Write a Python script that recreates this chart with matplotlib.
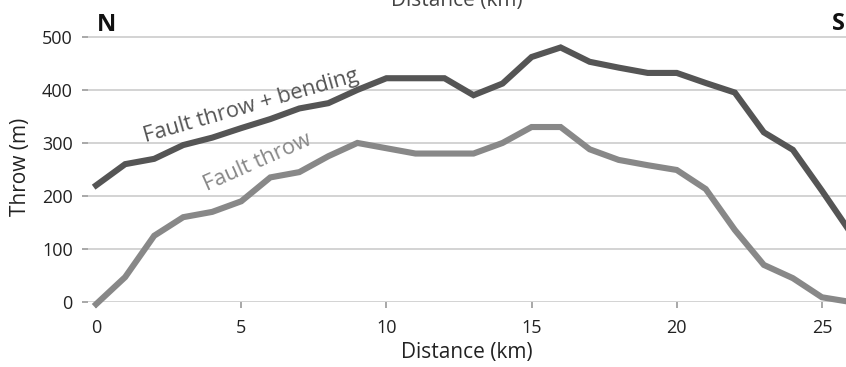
import numpy as np
import matplotlib
matplotlib.use("Agg")
import matplotlib.pyplot as plt

plt.rcParams['font.family'] = ['Open Sans', 'DejaVu Sans']

# distance along the fault (km)
distance_km = [0, 1, 2, 3, 4, 5, 6, 7, 8, 9, 10, 11, 12, 13, 14, 15, 16, 17, 18,
               19, 20, 21, 22, 23, 24, 25, 26]
# throw incl. bending (m)
throw_bending = [220, 260, 270, 296, 310, 328, 345, 365, 375, 400, 422, 422, 422, 390,
                 412, 462, 480, 453, 442, 432, 432, 413, 395, 320, 287, 210, 130]
# fault throw only (m)
throw_fault = [-4, 47, 125, 160, 170, 190, 235, 245, 275, 300, 290, 280, 280, 280,
               300, 330, 330, 288, 268, 258, 249, 213, 136, 70, 45, 9, 0]

x_ticks = [0, 5, 10, 15, 20, 25]
y_ticks = [0, 100, 200, 300, 400, 500]

fig = plt.figure(figsize=(8.46, 3.67), dpi=100)
ax = fig.add_axes([0.104, 0.177, 0.896, 0.737])

dark = '#555555'
light = '#888888'

ax.plot(distance_km, throw_bending, color=dark, lw=4.4, solid_joinstyle='miter',
        clip_on=False, zorder=3)
ax.plot(distance_km, throw_fault, color=light, lw=4.4, solid_joinstyle='miter',
        clip_on=False, zorder=3)

ax.set_xlim(-0.28, 25.83)
ax.set_ylim(0, 510)
ax.set_xticks(x_ticks)
ax.set_yticks(y_ticks)

for s in ax.spines.values():
    s.set_visible(False)
ax.grid(axis='y', color='#cccccc', lw=1.2)
ax.set_axisbelow(True)
ax.tick_params(axis='both', colors='#999999', labelcolor='#222222', labelsize=13,
               length=4, width=1.2, direction='out')
ax.tick_params(axis='x', pad=8)
ax.tick_params(axis='y', pad=7)

ax.set_xlabel('Distance (km)', fontsize=15, color='#222222', labelpad=4)
ax.set_ylabel('Throw (m)', fontsize=15, color='#222222', labelpad=8)

# inline line labels
ax.text(5.4, 360, 'Fault throw + bending', fontsize=15.7, color=dark, rotation=16,
        ha='center', va='baseline', rotation_mode='anchor')
ax.text(5.65, 254, 'Fault throw', fontsize=15.7, color=light, rotation=24,
        ha='center', va='baseline', rotation_mode='anchor')

# N / S ends and cropped top axis title
fig.text(97 / 846, 1 - 31 / 367, 'N', fontsize=17, fontweight='bold', color='#111111',
         ha='left', va='baseline')
fig.text(832 / 846, 1 - 30 / 367, 'S', fontsize=17, fontweight='bold', color='#111111',
         ha='left', va='baseline')
fig.text(457 / 846, 1 - 6 / 367, 'Distance (km)', fontsize=15, color='#444444',
         ha='center', va='baseline')

fig.savefig('out.png', dpi=100)
